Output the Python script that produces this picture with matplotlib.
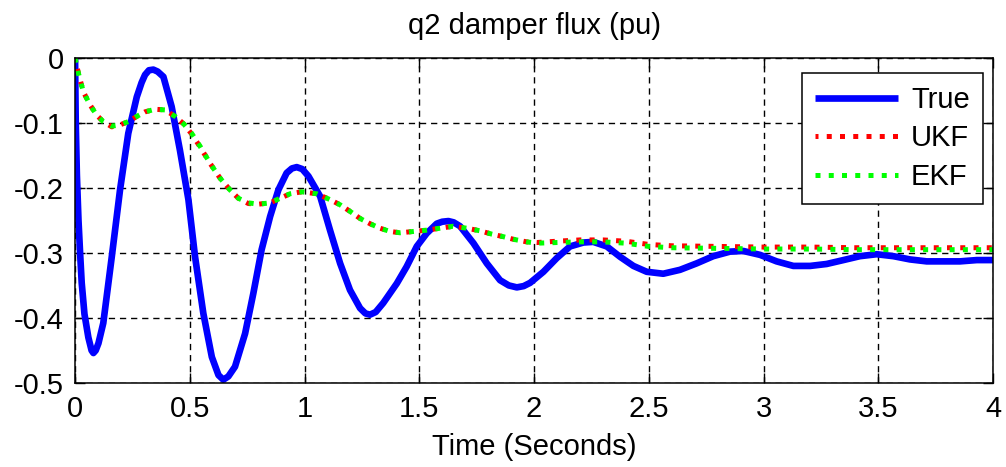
# -*- coding: utf-8 -*-
"""
q2 damper flux: true state vs UKF / EKF estimates
"""
import matplotlib
matplotlib.use("Agg")
import matplotlib.pyplot as plt
import matplotlib.ticker as ticker

params = {"font.family": ["Liberation Sans", "DejaVu Sans"], "font.size": 21,
          "axes.unicode_minus": False}
plt.rcParams.update(params)

# true state
t_true = [0, 0.003, 0.008, 0.015, 0.022, 0.029, 0.041, 0.058, 0.072, 0.080, 0.090,
          0.102, 0.123, 0.160, 0.196, 0.232, 0.269, 0.290, 0.305, 0.322, 0.341,
          0.360, 0.385, 0.421, 0.457,
          0.494, 0.523, 0.559, 0.596, 0.625, 0.646, 0.668, 0.697, 0.741, 0.777,
          0.813, 0.850, 0.886, 0.922, 0.945, 0.966, 0.990, 1.017, 1.068, 1.111,
          1.155, 1.198, 1.242, 1.265, 1.285, 1.310, 1.343, 1.402, 1.445, 1.489,
          1.532, 1.576, 1.600, 1.627, 1.650, 1.678, 1.736, 1.794, 1.852, 1.890,
          1.925, 1.955, 1.983, 2.041, 2.099, 2.157, 2.215, 2.258, 2.317, 2.375,
          2.433, 2.491, 2.563, 2.636, 2.709, 2.781, 2.854, 2.912, 2.985, 3.057,
          3.130, 3.203, 3.275, 3.348, 3.420, 3.493, 3.566, 3.638, 3.711, 3.784,
          3.856, 3.929, 4.0]
y_true = [0, -0.10, -0.18, -0.25, -0.30, -0.346, -0.394, -0.430, -0.450, -0.454, -0.450,
          -0.439, -0.408, -0.306, -0.203, -0.116, -0.060, -0.038, -0.026, -0.019, -0.018,
          -0.021, -0.029, -0.075, -0.142,
          -0.218, -0.306, -0.393, -0.460, -0.488, -0.495, -0.490, -0.475, -0.424, -0.362,
          -0.295, -0.244, -0.203, -0.177, -0.170, -0.168, -0.171, -0.182, -0.213, -0.265,
          -0.316, -0.357, -0.385, -0.393, -0.395, -0.391, -0.377, -0.347, -0.321, -0.290,
          -0.270, -0.255, -0.252, -0.251, -0.253, -0.259, -0.285, -0.316, -0.342, -0.350,
          -0.353, -0.351, -0.346, -0.329, -0.308, -0.290, -0.284, -0.283, -0.290, -0.306,
          -0.320, -0.329, -0.332, -0.326, -0.316, -0.305, -0.298, -0.297, -0.303, -0.313,
          -0.320, -0.320, -0.317, -0.311, -0.305, -0.302, -0.305, -0.310, -0.313, -0.313,
          -0.313, -0.311, -0.311]

# filter estimates
t_kf = [0, 0.015, 0.036, 0.065, 0.094, 0.123, 0.160, 0.196, 0.232, 0.269,
        0.305, 0.349, 0.392, 0.436, 0.472, 0.508, 0.545, 0.588, 0.632, 0.675,
        0.712, 0.755, 0.799, 0.850, 0.893, 0.937, 0.988, 1.053, 1.111, 1.155,
        1.198, 1.242, 1.285, 1.329, 1.373, 1.416, 1.474, 1.532, 1.590, 1.648,
        1.707, 1.765, 1.815, 1.866, 1.910, 1.968, 2.012, 2.1, 2.2, 2.3,
        2.4, 2.5, 2.6, 2.8, 3.0, 3.2, 3.4, 3.6, 3.8, 4.0]
y_ekf = [0, -0.024, -0.052, -0.072, -0.088, -0.098, -0.105, -0.103, -0.098, -0.090,
         -0.083, -0.079, -0.080, -0.090, -0.101, -0.116, -0.136, -0.162, -0.185, -0.203,
         -0.216, -0.223, -0.225, -0.223, -0.216, -0.209, -0.206, -0.209, -0.218, -0.226,
         -0.236, -0.247, -0.255, -0.262, -0.267, -0.269, -0.267, -0.265, -0.262, -0.259,
         -0.262, -0.266, -0.271, -0.275, -0.279, -0.283, -0.285, -0.284, -0.283, -0.283,
         -0.285, -0.290, -0.292, -0.293, -0.294, -0.294, -0.295, -0.295, -0.295, -0.295]
y_ukf = [0, -0.024, -0.052, -0.072, -0.088, -0.098, -0.106, -0.103, -0.098, -0.090,
         -0.083, -0.079, -0.080, -0.090, -0.101, -0.117, -0.137, -0.162, -0.185, -0.203,
         -0.216, -0.224, -0.225, -0.223, -0.216, -0.209, -0.206, -0.209, -0.218, -0.226,
         -0.236, -0.247, -0.255, -0.262, -0.267, -0.269, -0.267, -0.265, -0.262, -0.259,
         -0.262, -0.266, -0.271, -0.275, -0.279, -0.283, -0.284, -0.282, -0.280, -0.280,
         -0.282, -0.287, -0.289, -0.290, -0.291, -0.291, -0.292, -0.292, -0.292, -0.292]

x_ticks = [0, 0.5, 1, 1.5, 2, 2.5, 3, 3.5, 4]
y_ticks = [0, -0.1, -0.2, -0.3, -0.4, -0.5]

fig = plt.figure(figsize=(10.06, 4.67), dpi=100)
ax = fig.add_axes([0.0746, 0.180, 0.9125, 0.696])

ax.plot(t_true, y_true, color=(0, 0, 1), linewidth=4.8, label="True",
        solid_joinstyle="round", solid_capstyle="butt")
ax.plot(t_kf, y_ukf, color=(1, 0, 0), linewidth=3.6, linestyle=(0.4, (1, 1.65)),
        label="UKF")
ax.plot(t_kf, y_ekf, color=(0, 1, 0), linewidth=3.6, linestyle=(0, (1, 1.65)),
        label="EKF")

ax.set_xlim(0, 4)
ax.set_ylim(-0.5, 0)
ax.xaxis.set_major_locator(ticker.FixedLocator(x_ticks))
ax.yaxis.set_major_locator(ticker.FixedLocator(y_ticks))
ax.xaxis.set_major_formatter(ticker.FormatStrFormatter("%g"))
ax.yaxis.set_major_formatter(ticker.FormatStrFormatter("%g"))
ax.tick_params(direction="in", length=7, width=1, top=True, right=True,
               colors="black")
ax.tick_params(axis="x", pad=9)
ax.tick_params(axis="y", pad=8)
for s in ax.spines.values():
    s.set_linewidth(1.1)
    s.set_color("black")
ax.grid(True, color="black", linestyle=(0, (4.5, 3.5)), linewidth=1.0)
ax.set_axisbelow(True)

ax.set_title("q2 damper flux (pu)", fontsize=21, pad=17)
ax.set_xlabel("Time (Seconds)", fontsize=21, labelpad=7)

leg = ax.legend(loc="upper right", bbox_to_anchor=(0.989, 0.954),
                fontsize=21, fancybox=False, framealpha=1, edgecolor="black",
                handlelength=2.85, handletextpad=0.45, labelspacing=0.36,
                borderpad=0.45, borderaxespad=0)
leg.get_frame().set_linewidth(1.1)

fig.savefig("out.png", dpi=100)
